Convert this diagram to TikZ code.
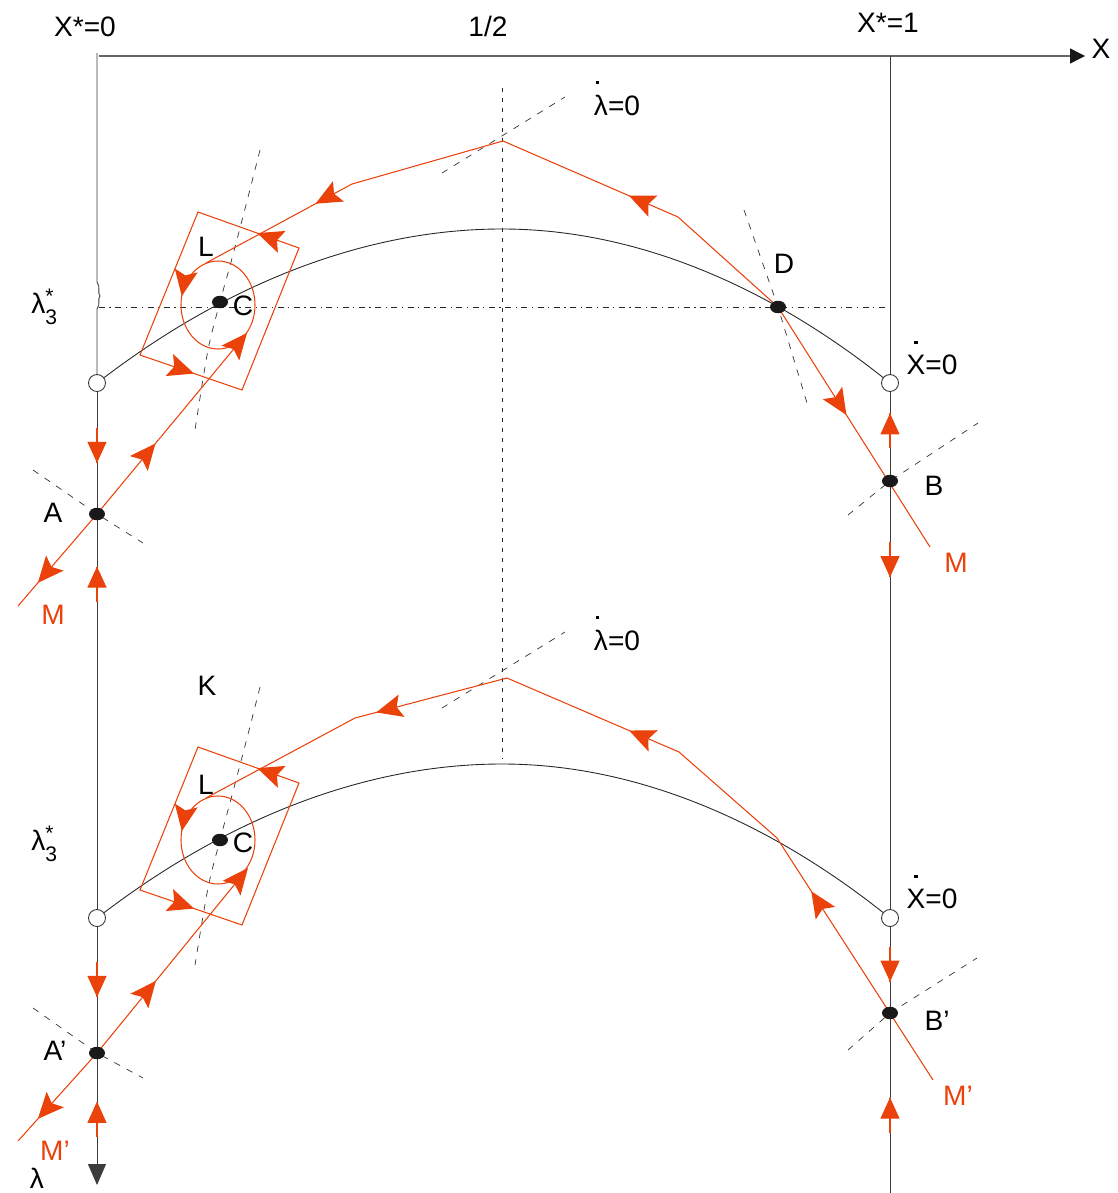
\documentclass[tikz,border=0pt]{standalone}
\usepackage{fontspec}
\setmainfont{Liberation Sans}
\usetikzlibrary{arrows.meta,shapes.geometric,decorations.markings,backgrounds}

\definecolor{flowred}{RGB}{234,66,10}
\definecolor{axisgrey}{RGB}{60,60,60}

\newcommand{\dotover}[2][0pt]{\leavevmode\setbox0\hbox{#2}%
  \rlap{\hspace*{\dimexpr.5\wd0-.9pt+#1\relax}\rule[\dimexpr\ht0+6pt\relax]{1.8pt}{1.8pt}}\box0}
\newcommand{\lamstar}{λ\rlap{\raisebox{.34em}{\fontsize{12}{12}\selectfont *}}\raisebox{-.42em}{\fontsize{12}{12}\selectfont 3}}
\newcommand{\redtip}{\arrow[flowred]{Stealth[length=5.2mm,width=4.6mm,inset=1mm]}}
\newcommand{\axtip}{\arrow[flowred]{Triangle[length=4.2mm,width=3.8mm]}}

\begin{document}
\begin{tikzpicture}[
  x=0.02cm, y=-0.02cm,
  lbl/.style={anchor=base, inner sep=0pt, font=\fontsize{16}{19}\selectfont},
  redlbl/.style={lbl, text=flowred},
  axis/.style={draw=axisgrey, line width=.5pt},
  curve/.style={draw=black!85, line width=.5pt},
  flow/.style={draw=flowred, line width=.6pt},
  guide/.style={draw=black!80, line width=.4pt, dash pattern=on 1.3mm off 1.5mm},
  dot/.style={ellipse, fill=black!90, minimum width=3.2mm, minimum height=2.5mm, inner sep=0pt},
  hole/.style={circle, draw=black!80, fill=white, line width=.5pt, minimum size=3.4mm, inner sep=0pt},
  fmark/.style={postaction={decorate}, decoration={markings, mark=at position #1 with {\redtip}}},
  axfwd/.style={postaction={decorate}, decoration={markings, mark=at position #1 with
      {\draw[flowred, line width=.6pt] (-7mm,0) -- (0,0); \axtip}}},
  axback/.style={postaction={decorate}, decoration={markings, mark=at position #1 with
      {\draw[flowred, line width=.6pt] (7mm,0) -- (0,0); \arrowreversed[flowred]{Triangle[length=4.2mm,width=3.8mm]}}}}
]
\useasboundingbox (0,0) rectangle (1118,1193);

% ---------- points ----------
\node[hole] (O1)  at (97,383)  {};
\node[hole] (O1r) at (890,383) {};
\node[hole] (O2)  at (97,918)  {};
\node[hole] (O2r) at (890,918) {};
\node[dot] (A)  at (97,514)   {};
\node[dot] (B)  at (890,481)  {};
\node[dot] (C)  at (220,302)  {};
\node[dot] (D)  at (778,307)  {};
\node[dot] (A2) at (97,1053)  {};
\node[dot] (B2) at (890,1013) {};
\node[dot] (C2) at (220,840)  {};

\coordinate (orig)   at (99,56);
\coordinate (xend)   at (1085,56);
\coordinate (lamtop) at (97,53);
\coordinate (lamend) at (97,1185);
\coordinate (rtop)   at (890,56);
\coordinate (rbot)   at (890,1193);
\coordinate (apex)   at (502,229);
\coordinate (apex2)  at (502,764);

% upper trajectory
\coordinate (eM)  at (930,547);
\coordinate (k1)  at (678,217);
\coordinate (top) at (503,141);
\coordinate (k2)  at (352,184);
\coordinate (L)   at (206,263);
\coordinate (eA)  at (247,333);
\coordinate (eMl) at (18,606);
% lower trajectory
\coordinate (eM2)  at (933,1080);
\coordinate (X2)   at (777,838);
\coordinate (k12)  at (679,752);
\coordinate (top2) at (507,678);
\coordinate (k22)  at (355,718);
\coordinate (L2)   at (206,798);
\coordinate (eA2)  at (248,868);
\coordinate (eMl2) at (18,1141);

\begin{scope}[on background layer]
% ---------- axes ----------
\draw[draw=black!60, line width=.8pt, -{Triangle[length=3mm,width=3mm,color=black!90]}] (orig) -- (xend);
\draw[axis] (lamtop) -- (97,282) .. controls (101,287) and (97,293) .. (100,296)
  .. controls (97,299) and (101,304) .. (97,309) -- (O1);
\draw[axis, axfwd=.61] (O1.center) -- (A.center);
\draw[axis, axback=.13] (A.center) -- (O2.center);
\draw[axis, axfwd=.585] (O2.center) -- (A2.center);
\draw[axis, axback=.37, -{Triangle[length=4.2mm,width=3.6mm]}] (A2.center) -- (lamend);
\draw[axis] (rtop) -- (O1r);
\draw[axis, axback=.31] (O1r.center) -- (B.center);
\draw[axis, axfwd=.22] (B.center) -- (O2r.center);
\draw[axis, axfwd=.67] (O2r.center) -- (B2.center);
\draw[axis, axback=.47] (B2.center) -- (rbot);

% ---------- guide lines ----------
\draw[draw=black!85, line width=.4pt, dash pattern=on 1.2mm off .9mm on .25mm off .9mm] (99,307) -- (885,307);
\draw[black!85, line width=.45pt, dash pattern=on .8mm off 1.2mm] (502,88) -- (502,758);
\draw[guide] (33,470) -- (A.center) -- (143,543);
\draw[guide] (848,515) -- (B.center) -- (978,423);
\draw[guide] (744,210) -- (D.center) -- (807,403);
\draw[guide] (442,173) -- (565,97);
\draw[guide] plot[smooth] coordinates {(260,150) (246,205) (231,262) (220,302) (208,350) (195,430)};
\draw[guide] (33,1008) -- (A2.center) -- (143,1078);
\draw[guide] (848,1050) -- (B2.center) -- (977,958);
\draw[guide] (442,708) -- (565,632);
\draw[guide] plot[smooth] coordinates {(260,687) (246,742) (231,799) (220,840) (208,888) (195,965)};

% ---------- nullclines ----------
\draw[curve] (O1.center) parabola bend (apex) (O1r.center);
\draw[curve] (O2.center) parabola bend (apex2) (O2r.center);

% ---------- upper trajectories ----------
\draw[flow, fmark=.45] (D.center) -- (eM);
\draw[flow] (D.center) -- (k1);
\draw[flow, fmark=.28] (k1) -- (top);
\draw[flow] (top) -- (k2);
\draw[flow, fmark=.25] (k2) -- (L);
\draw[flow, fmark=.39, -{Stealth[length=5.2mm,width=4.6mm,inset=1mm]}] (A.center) -- (eA);
\draw[flow, fmark=.75] (A.center) -- (eMl);
\draw[flow, fmark=.215] (218,261) arc[start angle=270, end angle=-90, x radius=37, y radius=44];
\draw[flow, postaction={decorate}, decoration={markings,
    mark=at position .085 with {\redtip}, mark=at position .61 with {\redtip}}]
  (299,248) -- (198,212) -- (140,355) -- (242,390) -- cycle;

% ---------- lower trajectories ----------
\draw[flow, fmark=.78] (eM2) -- (X2);
\draw[flow] (X2) -- (k12);
\draw[flow, fmark=.29] (k12) -- (top2);
\draw[flow, fmark=.86] (top2) -- (k22);
\draw[flow] (k22) -- (L2);
\draw[flow, fmark=.39, -{Stealth[length=5.2mm,width=4.6mm,inset=1mm]}] (A2.center) -- (eA2);
\draw[flow, fmark=.75] (A2.center) -- (eMl2);
\draw[flow, fmark=.215] (218,796) arc[start angle=270, end angle=-90, x radius=37, y radius=44];
\draw[flow, postaction={decorate}, decoration={markings,
    mark=at position .085 with {\redtip}, mark=at position .61 with {\redtip}}]
  (299,783) -- (198,747) -- (140,890) -- (242,925) -- cycle;
\end{scope}

% ---------- labels ----------
\node[lbl] (lx0)  at (85,37)   {X*=0};
\node[lbl] (lhalf) at (488,37) {1/2};
\node[lbl] (lx1)  at (888,33)  {X*=1};
\node[lbl] (lx)   at (1101,59) {X};
\node[lbl] (llam1) at (617,115) {\dotover[-2.2pt]{λ}=0};
\node[lbl] (llam2) at (617,650) {\dotover[-2.2pt]{λ}=0};
\node[lbl] (lxd1) at (932,374) {\dotover{X}=0};
\node[lbl] (lxd2) at (932,908) {\dotover{X}=0};
\node[lbl, anchor=base west] (lst1) at (31,313) {\lamstar};
\node[lbl, anchor=base west] (lst2) at (31,850) {\lamstar};
\node[lbl] (lC)  at (243,315) {C};
\node[lbl] (lL)  at (206,256) {L};
\node[lbl] (lD)  at (784,273) {D};
\node[lbl] (lA)  at (53,522)  {A};
\node[lbl] (lB)  at (934,495) {B};
\node[redlbl] (lM)  at (956,572) {M};
\node[redlbl] (lMl) at (53,624)  {M};
\node[lbl] (lK)  at (207,695) {K};
\node[lbl] (lL2) at (206,794) {L};
\node[lbl] (lC2) at (243,852) {C};
\node[lbl] (lA2) at (55,1060) {A’};
\node[lbl] (lB2) at (937,1030) {B’};
\node[redlbl] (lM2)  at (958,1105) {M’};
\node[redlbl] (lMl2) at (55,1160)  {M’};
\node[lbl] (llam) at (37,1188) {λ};
\end{tikzpicture}
\end{document}
